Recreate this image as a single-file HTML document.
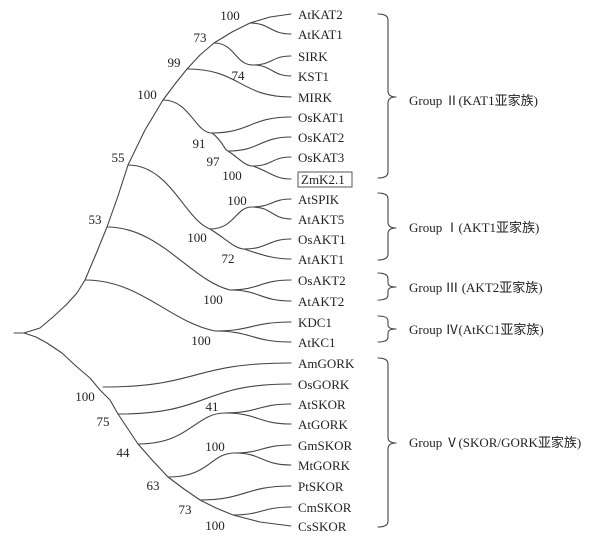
<!DOCTYPE html>
<html><head><meta charset="utf-8"><style>
html,body{margin:0;padding:0;background:#fff;}
svg{display:block;}
text{font-family:"Liberation Serif","Noto Serif CJK SC",serif;font-size:13px;fill:#222;}
.g{font-family:"Liberation Serif","Noto Sans CJK SC",serif;font-size:13px;}
path,polyline{fill:none;stroke:#444;stroke-width:1.1;stroke-linejoin:round;stroke-linecap:round;}
</style></head><body>
<svg width="602" height="538" viewBox="0 0 602 538" xmlns="http://www.w3.org/2000/svg">
<!-- spines -->
<path d="M14,333 L24,333"/>
<polyline points="24,333 40,328 53,317 66,305 77,293 85,280 96,254 107,227 118,196 128,165 145,130 163,100 175,84 187,69 200,55 214,43 232,32 250,23 270,17 291,14"/>
<polyline points="24,333 36,337 47,343 62,353 77,367 90,378 100,390 110,400 118,414 128,429 138,444 153,461 168,477 184,489 200,500 216,508 233,515 260,522 291,526"/>
<!-- KAT -->
<path d="M250,23 C270,23 270,34 291,34"/>
<path d="M214,43 C235,43 235,65 253,65"/>
<path d="M253,65 C272,65 272,56 291,56"/>
<path d="M253,65 C272,65 272,76 291,76"/>
<path d="M187,69 C240,69 240,97 291,97"/>
<path d="M163,100 C190,100 195,133 212,133 C222,140 225,151 228,151 C240,159 245,166 253,166 C270,172 275,179 291,179"/>
<path d="M212,133 C250,133 250,117 291,117"/>
<path d="M228,151 C260,151 260,137 291,137"/>
<path d="M253,166 C272,166 272,157 291,157"/>
<!-- AKT1 -->
<path d="M128,165 C170,165 185,220 210,229 C225,238 235,249 244,249 C265,256 275,259 291,259"/>
<path d="M210,229 C235,229 235,207 252,207"/>
<path d="M252,207 C272,207 272,199 291,199"/>
<path d="M252,207 C272,207 272,219 291,219"/>
<path d="M244,249 C268,249 268,239 291,239"/>
<!-- AKT2 -->
<path d="M107,227 C160,227 190,280 230,290"/>
<path d="M230,290 C260,290 260,280 291,280"/>
<path d="M230,290 C260,290 260,301 291,301"/>
<!-- KC1 -->
<path d="M85,280 C140,280 170,322 215,331"/>
<path d="M215,331 C252,331 252,322 291,322"/>
<path d="M215,331 C252,331 252,342 291,342"/>
<!-- GORK -->
<path d="M103,387 C200,387 190,363 291,363"/>
<path d="M118,414 C210,414 200,384 291,384"/>
<path d="M138,444 C190,444 195,413 225,413"/>
<path d="M225,413 C258,413 258,404 291,404"/>
<path d="M225,413 C258,413 258,424 291,424"/>
<path d="M168,477 C210,477 210,453 235,453"/>
<path d="M235,453 C262,453 262,445 291,445"/>
<path d="M235,453 C262,453 262,465 291,465"/>
<path d="M200,500 C245,500 245,486 291,486"/>
<path d="M233,515 C262,515 262,507 291,507"/>
<!-- leaf labels -->
<g>
<text x="298" y="19">AtKAT2</text>
<text x="298" y="39">AtKAT1</text>
<text x="298" y="61">SIRK</text>
<text x="298" y="81">KST1</text>
<text x="298" y="102">MIRK</text>
<text x="298" y="122">OsKAT1</text>
<text x="298" y="142">OsKAT2</text>
<text x="298" y="162">OsKAT3</text>
<text x="301" y="184">ZmK2.1</text>
<text x="298" y="204">AtSPIK</text>
<text x="298" y="224">AtAKT5</text>
<text x="298" y="244">OsAKT1</text>
<text x="298" y="264">AtAKT1</text>
<text x="298" y="285">OsAKT2</text>
<text x="298" y="306">AtAKT2</text>
<text x="298" y="327">KDC1</text>
<text x="298" y="347">AtKC1</text>
<text x="298" y="368">AmGORK</text>
<text x="298" y="389">OsGORK</text>
<text x="298" y="409">AtSKOR</text>
<text x="298" y="429">AtGORK</text>
<text x="298" y="450">GmSKOR</text>
<text x="298" y="470">MtGORK</text>
<text x="298" y="491">PtSKOR</text>
<text x="298" y="512">CmSKOR</text>
<text x="298" y="531">CsSKOR</text>
</g>
<rect x="298" y="172" width="54" height="15" fill="none" stroke="#555" stroke-width="1"/>
<!-- bootstrap -->
<g text-anchor="middle">
<text x="230" y="20">100</text>
<text x="200" y="42">73</text>
<text x="174" y="67">99</text>
<text x="147" y="99">100</text>
<text x="118" y="162">55</text>
<text x="95" y="224">53</text>
<text x="238" y="80">74</text>
<text x="199" y="148">91</text>
<text x="213" y="166">97</text>
<text x="232" y="180">100</text>
<text x="237" y="205">100</text>
<text x="197" y="242">100</text>
<text x="228" y="263">72</text>
<text x="213" y="304">100</text>
<text x="201" y="345">100</text>
<text x="85" y="401">100</text>
<text x="103" y="426">75</text>
<text x="212" y="411">41</text>
<text x="123" y="457">44</text>
<text x="215" y="451">100</text>
<text x="153" y="490">63</text>
<text x="185" y="514">73</text>
<text x="215" y="530">100</text>
</g>
<!-- brackets -->
<path d="M378,14 Q388,14 388,20 L388,91 Q388,97 396,97 Q388,97 388,103 L388,172 Q388,178 378,178"/>
<path d="M378,193 Q388,193 388,199 L388,222 Q388,228 396,228 Q388,228 388,234 L388,254 Q388,260 378,260"/>
<path d="M378,273 Q388,273 388,279 L388,283 Q388,287 396,287 Q388,287 388,291 L388,295 Q388,300 378,300"/>
<path d="M378,316 Q388,316 388,321 L388,325 Q388,329 396,329 Q388,329 388,333 L388,337 Q388,342 378,342"/>
<path d="M378,358 Q388,358 388,364 L388,437 Q388,443 396,443 Q388,443 388,449 L388,521 Q388,527 378,527"/>
<text class="g" x="409" y="105">Group Ⅱ(KAT1亚家族)</text>
<text class="g" x="409" y="232">Group Ⅰ(AKT1亚家族)</text>
<text class="g" x="409" y="292">Group Ⅲ (AKT2亚家族)</text>
<text class="g" x="409" y="334">Group Ⅳ(AtKC1亚家族)</text>
<text class="g" x="409" y="447">Group Ⅴ(SKOR/GORK亚家族)</text>
</svg>
</body></html>
